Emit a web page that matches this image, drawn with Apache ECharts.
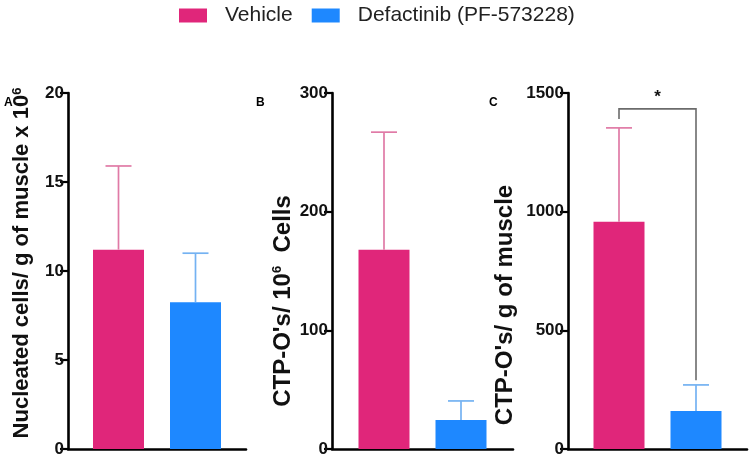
<!DOCTYPE html>
<html>
<head>
<meta charset="utf-8">
<script src="https://cdn.jsdelivr.net/npm/echarts@6/dist/echarts.min.js"></script>
<style>html,body{margin:0;padding:0;background:#fff;}#chart{width:751px;height:461px;}</style>
</head>
<body>
<div id="chart"></div>
<script>
// ---- data ----
const groups = ['Vehicle', 'Defactinib (PF-573228)'];
const panelLetters = ['A', 'B', 'C'];
const yTitles = ['Nucleated cells/ g of muscle x 10{sup|6}', "CTP-O's/ 10{sup|6}  Cells", "CTP-O's/ g of muscle"];
const yMax = [20, 300, 1500];
const yInterval = [5, 100, 500];
const nucleatedMean = [11.2, 8.25];
const nucleatedSD = [4.7, 2.75];
const perCellsMean = [168, 24.5];
const perCellsSD = [99, 16];
const perGramMean = [957, 160];
const perGramSD = [396, 110];
const sigBracket = [1433, 1390, 290]; // top, left end, right end (panel C)
const sigLabel = ['*'];

// ---- styles ----
const colors = ['#E0267A', '#1E88FF'];
const errColors = ['#E07AA6', '#74B2F2'];
const barW = 51, barGapPx = 26;
const off = (barW + barGapPx) / 2;
const grids = [
  {left: 68, width: 178, top: 93, bottom: 12},
  {left: 332, width: 181, top: 93, bottom: 12},
  {left: 568, width: 179, top: 93, bottom: 12}
];
const nameGaps = [35, 37, 51];
const nameSizes = [22, 24, 24];
const namePads = [[0,0,0,16],[0,60,0,0],[0,68,0,0]];
const means = [nucleatedMean, perCellsMean, perGramMean];
const sds = [nucleatedSD, perCellsSD, perGramSD];

const series = [];
means.forEach((m, p) => {
  groups.forEach((g, s) => {
    series.push({
      type: 'bar', name: g, xAxisIndex: p, yAxisIndex: p,
      data: [m[s]], barWidth: barW, barGap: (barGapPx / barW * 100) + '%',
      itemStyle: {color: colors[s]}, z: 2, silent: true
    });
  });
  series.push({
    type: 'custom', xAxisIndex: p, yAxisIndex: p, z: 3, silent: true,
    data: groups.map((g, s) => [0, m[s], m[s] + sds[p][s], s]),
    renderItem: function (params, api) {
      const s = api.value(3);
      const base = api.coord([0, api.value(1)]);
      const top = api.coord([0, api.value(2)]);
      const x = base[0] + (s === 0 ? -off : off);
      const st = {stroke: errColors[s], lineWidth: 1.7};
      return {type: 'group', children: [
        {type: 'line', shape: {x1: x, y1: base[1], x2: x, y2: top[1]}, style: st},
        {type: 'line', shape: {x1: x - 13, y1: top[1], x2: x + 13, y2: top[1]}, style: st}
      ]};
    }
  });
});
// significance bracket in panel C
series.push({
  type: 'custom', xAxisIndex: 2, yAxisIndex: 2, z: 4, silent: true,
  data: [sigBracket],
  renderItem: function (params, api) {
    const t = api.coord([0, api.value(0)]);
    const l = api.coord([0, api.value(1)]);
    const r = api.coord([0, api.value(2)]);
    const xl = t[0] - off, xr = t[0] + off;
    return {type: 'group', children: [
      {type: 'polyline', shape: {points: [[xl, l[1]], [xl, t[1]], [xr, t[1]], [xr, r[1]]]},
       style: {stroke: '#6b6b6b', lineWidth: 1.6, fill: null}},
      {type: 'text', style: {text: sigLabel[0], x: t[0], y: t[1] - 3, align: 'center', verticalAlign: 'bottom',
        fontSize: 17, fontWeight: 'bold', fill: '#111', fontFamily: 'Liberation Sans'}}
    ]};
  }
});

const option = {
  animation: false,
  backgroundColor: '#fff',
  textStyle: {fontFamily: 'Liberation Sans'},
  title: panelLetters.map((t, i) => ({
    text: t, left: [4, 256, 489][i], top: 97, padding: 0,
    textStyle: {fontSize: 12, fontWeight: 'bold', color: '#000', fontFamily: 'Liberation Sans'}
  })),
  legend: {
    data: groups, left: 179, top: 5, padding: 0, itemWidth: 28, itemHeight: 14, itemGap: 19, icon: 'rect',
    selectedMode: false,
    textStyle: {fontSize: 21, color: '#222', fontFamily: 'Liberation Sans', padding: [0, 0, 0, 13]}
  },
  grid: grids,
  xAxis: grids.map((g, i) => ({
    type: 'category', gridIndex: i, data: ['x'],
    axisLine: {lineStyle: {color: '#000', width: 2.6}},
    axisTick: {show: false}, axisLabel: {show: false}, splitLine: {show: false}
  })),
  yAxis: grids.map((g, i) => ({
    type: 'value', gridIndex: i, min: 0, max: yMax[i], interval: yInterval[i],
    name: yTitles[i], nameLocation: 'middle', nameRotate: 90, nameGap: nameGaps[i],
    nameTextStyle: {fontSize: nameSizes[i], fontWeight: 'bold', color: '#111', fontFamily: 'Liberation Sans',
      padding: namePads[i],
      rich: {sup: {fontSize: 13, fontWeight: 'bold', color: '#111', verticalAlign: 'top', fontFamily: 'Liberation Sans'}}},
    axisLine: {show: true, lineStyle: {color: '#000', width: 2.6}},
    axisTick: {show: true, length: 8, lineStyle: {color: '#000', width: 2.2}},
    axisLabel: {fontSize: 17, fontWeight: 'bold', color: '#111', margin: 4, fontFamily: 'Liberation Sans',
      formatter: v => String(v)},
    splitLine: {show: false}
  })),
  series: series
};
echarts.init(document.getElementById('chart'), null, {renderer: 'canvas'}).setOption(option);
</script>
</body>
</html>
